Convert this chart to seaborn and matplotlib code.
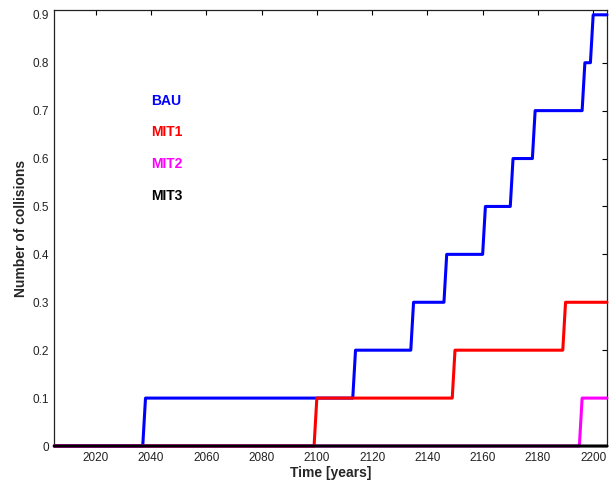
import numpy as np
import pandas as pd
import matplotlib
matplotlib.use("Agg")
import matplotlib.pyplot as plt
import seaborn as sns

# Scenario names and line colours
scenarios = ["BAU", "MIT1", "MIT2", "MIT3"]
colors = ["#0000ff", "#ff0000", "#ff00ff", "#000000"]

# Years at which the cumulative number of collisions steps up, and the level reached
bau_years = [2038, 2114, 2135, 2147, 2161, 2171, 2179, 2197, 2200]
bau_levels = [0.1, 0.2, 0.3, 0.4, 0.5, 0.6, 0.7, 0.8, 0.9]
mit1_years = [2100, 2150, 2190]
mit1_levels = [0.1, 0.2, 0.3]
mit2_years = [2196]
mit2_levels = [0.1]
mit3_years = []
mit3_levels = []

x_ticks = [2020, 2040, 2060, 2080, 2100, 2120, 2140, 2160, 2180, 2200]
y_ticks = [0, 0.1, 0.2, 0.3, 0.4, 0.5, 0.6, 0.7, 0.8, 0.9]
y_tick_labels = ["0", "0.1", "0.2", "0.3", "0.4", "0.5", "0.6", "0.7", "0.8", "0.9"]

years = np.arange(2005, 2206)


def yearly_series(step_years, step_levels):
    """Cumulative level for every simulated year."""
    levels = np.concatenate([[0.0], np.asarray(step_levels, dtype=float)])
    idx = np.searchsorted(np.asarray(step_years, dtype=float), years, side="right")
    return levels[idx]


frames = []
for name, sy, sl in [("BAU", bau_years, bau_levels),
                     ("MIT1", mit1_years, mit1_levels),
                     ("MIT2", mit2_years, mit2_levels),
                     ("MIT3", mit3_years, mit3_levels)]:
    frames.append(pd.DataFrame({"year": years,
                                "collisions": yearly_series(sy, sl),
                                "scenario": name}))
df = pd.concat(frames, ignore_index=True)

sns.set_theme(style="white")
plt.rcParams["font.family"] = ["Liberation Sans", "DejaVu Sans"]

fig = plt.figure(figsize=(6.13, 4.86), dpi=100)
ax = fig.add_axes([0.0886, 0.0823, 0.9016, 0.8971])

# One call per scenario so later scenarios are stacked on top
for i, (name, col) in enumerate(zip(scenarios, colors)):
    sns.lineplot(data=df[df["scenario"] == name], x="year", y="collisions",
                 color=col, estimator=None, linewidth=2.2, legend=False,
                 ax=ax, clip_on=False, zorder=3 + i, snap=False)

ax.set_xlim(2005, 2205)
ax.set_ylim(0, 0.91)
ax.set_xticks(x_ticks)
ax.set_yticks(y_ticks)
ax.set_yticklabels(y_tick_labels)
ax.tick_params(direction="in", top=True, right=True, length=3.5, width=0.8,
               colors="black", labelsize=8.5, labelcolor="#222222", pad=4)
for s in ax.spines.values():
    s.set_color("#222222")
    s.set_linewidth(0.9)

ax.set_xlabel("Time [years]", fontsize=10, fontweight="bold", labelpad=2)
ax.set_ylabel("Number of collisions", fontsize=10, fontweight="bold", labelpad=3)

# Scenario labels in place of a legend
label_y = [0.72, 0.655, 0.588, 0.522]
for name, col, yy in zip(scenarios, colors, label_y):
    ax.text(2040.2, yy, name, color=col, fontsize=10, fontweight="bold",
            ha="left", va="center")

fig.savefig("out.png", dpi=100)
